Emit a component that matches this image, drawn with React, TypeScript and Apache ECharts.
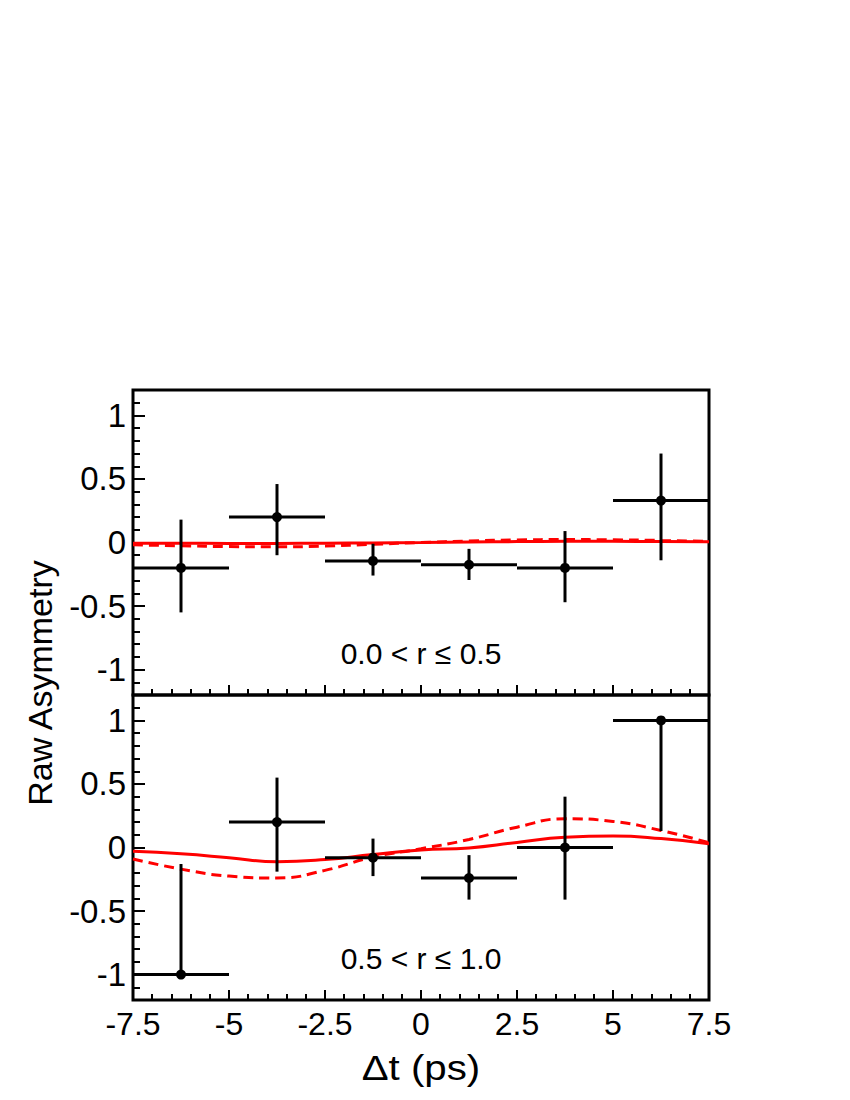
import React, { useEffect, useRef } from "react";
import * as echarts from "echarts";

// ---- Data ----
const BIN_LO = [-7.5, -5, -2.5, 0, 2.5, 5];
const BIN_HI = [-5, -2.5, 0, 2.5, 5, 7.5];
const BIN_CENTER = [-6.25, -3.75, -1.25, 1.25, 3.75, 6.25];

const TOP_VALUE = [-0.2, 0.2, -0.145, -0.175, -0.2, 0.33];
const TOP_LOW = [-0.55, -0.1, -0.26, -0.295, -0.47, -0.14];
const TOP_HIGH = [0.18, 0.46, -0.01, -0.05, 0.09, 0.7];

const BOT_VALUE = [-1.0, 0.2, -0.08, -0.24, 0.0, 1.0];
const BOT_LOW = [-1.0, -0.19, -0.225, -0.41, -0.41, 0.13];
const BOT_HIGH = [-0.13, 0.55, 0.07, -0.06, 0.4, 1.0];

const CURVE_DT = [-7.5, -6.25, -5, -3.75, -2.5, -1.25, 0, 1.25, 2.5, 3.75, 5, 6.25, 7.5];
const TOP_SOLID = [-0.005, -0.006, -0.007, -0.007, -0.006, -0.003, 0, 0.004, 0.007, 0.009, 0.009, 0.007, 0.005];
const TOP_DASHED = [-0.018, -0.026, -0.032, -0.034, -0.028, -0.014, 0, 0.012, 0.02, 0.023, 0.021, 0.016, 0.008];
const BOT_SOLID = [-0.03, -0.05, -0.08, -0.112, -0.095, -0.055, -0.02, -0.003, 0.04, 0.08, 0.09, 0.07, 0.03];
const BOT_DASHED = [-0.09, -0.17, -0.225, -0.24, -0.18, -0.075, -0.01, 0.063, 0.16, 0.226, 0.205, 0.134, 0.037];

const Y_MAJOR = [-1, -0.5, 0, 0.5, 1];
const X_MIN = -7.5;
const X_MAX = 7.5;

const TOP_LABEL = "0.0 < r \u2264 0.5";
const BOT_LABEL = "0.5 < r \u2264 1.0";
const X_TITLE = "\u0394t (ps)";
const Y_TITLE = "Raw Asymmetry";

const FONT = "'Liberation Sans', Arial, Helvetica, sans-serif";

function pointRows(value: number[], low: number[], high: number[]) {
  return BIN_CENTER.map((c, i) => [c, value[i], BIN_LO[i], BIN_HI[i], low[i], high[i]]);
}

function curveRows(ys: number[]) {
  return CURVE_DT.map((x, i) => [x, ys[i]]);
}

const renderErr = (params: any, api: any) => {
  const x = api.value(0);
  const y = api.value(1);
  const p = api.coord([x, y]);
  const l = api.coord([api.value(2), y]);
  const r = api.coord([api.value(3), y]);
  const lo = api.coord([x, api.value(4)]);
  const hi = api.coord([x, api.value(5)]);
  const st = { stroke: "#000", lineWidth: 3 };
  return {
    type: "group",
    children: [
      { type: "line", shape: { x1: l[0], y1: l[1], x2: r[0], y2: r[1] }, style: st },
      { type: "line", shape: { x1: lo[0], y1: lo[1], x2: hi[0], y2: hi[1] }, style: st },
      { type: "circle", shape: { cx: p[0], cy: p[1], r: 5 }, style: { fill: "#000" } },
    ],
  };
};

export default function App() {
  const ref = useRef<HTMLDivElement>(null);
  useEffect(() => {
    if (!ref.current) return;
    const chart = echarts.init(ref.current, null, { renderer: "svg" });

    const xAxisBase = (gridIndex: number, showLabel: boolean) => ({
      type: "value",
      gridIndex,
      position: "bottom",
      min: X_MIN,
      max: X_MAX,
      interval: 2.5,
      axisLine: { show: false, onZero: false },
      axisTick: { show: true, inside: true, length: 10, lineStyle: { color: "#000", width: 2 } },
      minorTick: { show: true, splitNumber: 5, length: 6, lineStyle: { color: "#000", width: 2 } },
      splitLine: { show: false },
      axisLabel: {
        show: showLabel,
        color: "#000",
        fontSize: 32,
        fontFamily: FONT,
        margin: 8,
        showMinLabel: true,
        showMaxLabel: true,
      },
    });

    const yMajor = (gridIndex: number) => ({
      type: "value",
      gridIndex,
      min: -1.2,
      max: 1.2,
      position: "left",
      axisLine: { show: false, onZero: false },
      splitLine: { show: false },
      axisTick: {
        show: true,
        inside: true,
        length: 12,
        customValues: Y_MAJOR,
        lineStyle: { color: "#000", width: 2 },
      },
      axisLabel: {
        show: true,
        customValues: Y_MAJOR,
        color: "#000",
        fontSize: 33,
        fontFamily: FONT,
        margin: 7,
      },
    });

    const yMinor = (gridIndex: number) => ({
      type: "value",
      gridIndex,
      min: -1.2,
      max: 1.2,
      interval: 0.1,
      position: "left",
      axisLine: { show: false, onZero: false },
      splitLine: { show: false },
      axisTick: { show: true, inside: true, length: 7, lineStyle: { color: "#000", width: 2 } },
      axisLabel: { show: false },
    });

    const curve = (xi: number, yi: number, data: number[][], dashed: boolean) => ({
      type: "line",
      xAxisIndex: xi,
      yAxisIndex: yi,
      data,
      smooth: true,
      showSymbol: false,
      symbol: "none",
      lineStyle: { color: "#ff0000", width: 3, type: dashed ? [10, 6] : "solid" },
      z: 3,
    });

    const errSeries = (xi: number, yi: number, data: number[][]) => ({
      type: "custom",
      xAxisIndex: xi,
      yAxisIndex: yi,
      data,
      encode: { x: 0, y: 1 },
      renderItem: renderErr,
      z: 4,
    });

    chart.setOption({
      animation: false,
      backgroundColor: "#fff",
      grid: [
        { left: 133, right: 141, top: 390, height: 305, show: true, borderColor: "#000", borderWidth: 3, backgroundColor: "transparent", containLabel: false },
        { left: 133, right: 141, top: 695, height: 305, show: true, borderColor: "#000", borderWidth: 3, backgroundColor: "transparent", containLabel: false },
      ],
      xAxis: [xAxisBase(0, false), xAxisBase(1, true)],
      yAxis: [yMajor(0), yMinor(0), yMajor(1), yMinor(1)],
      series: [
        curve(0, 0, curveRows(TOP_DASHED), true),
        curve(0, 0, curveRows(TOP_SOLID), false),
        errSeries(0, 0, pointRows(TOP_VALUE, TOP_LOW, TOP_HIGH)),
        curve(1, 2, curveRows(BOT_DASHED), true),
        curve(1, 2, curveRows(BOT_SOLID), false),
        errSeries(1, 2, pointRows(BOT_VALUE, BOT_LOW, BOT_HIGH)),
      ],
      graphic: [
        {
          type: "text",
          x: 421,
          y: 653,
          style: { text: TOP_LABEL, fontSize: 30, fontFamily: FONT, fill: "#000", textAlign: "center", textVerticalAlign: "middle" },
        },
        {
          type: "text",
          x: 421,
          y: 958,
          style: { text: BOT_LABEL, fontSize: 30, fontFamily: FONT, fill: "#000", textAlign: "center", textVerticalAlign: "middle" },
        },
        {
          type: "text",
          x: 421,
          y: 1068,
          scaleX: 1.15,
          style: { text: X_TITLE, fontSize: 35, fontWeight: "normal", fontFamily: FONT, fill: "#000", textAlign: "center", textVerticalAlign: "middle" },
        },
        {
          type: "text",
          x: 40,
          y: 683,
          rotation: Math.PI / 2,
          style: { text: Y_TITLE, fontSize: 34, fontWeight: "normal", fontFamily: FONT, fill: "#000", textAlign: "center", textVerticalAlign: "middle" },
        },
      ],
    });
    return () => chart.dispose();
  }, []);
  return (
    <div
      ref={ref}
      style={{ position: "absolute", left: 0, top: 0, width: 850, height: 1100, background: "#fff" }}
    />
  );
}
